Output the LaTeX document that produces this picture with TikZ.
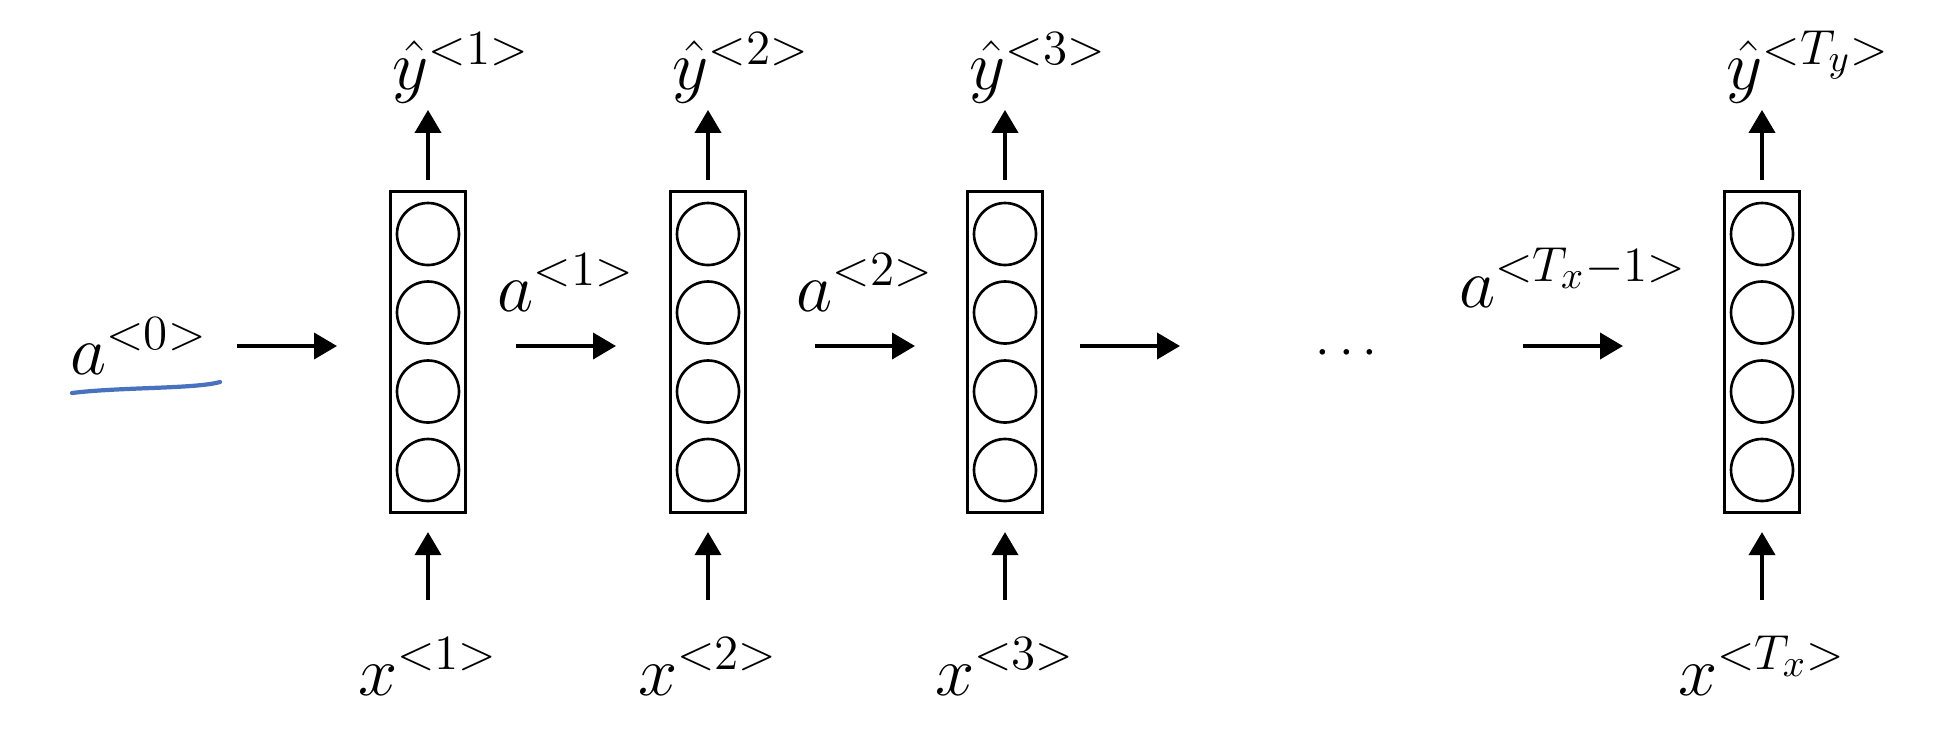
\RequirePackage{fix-cm}
\documentclass[tikz,border=0pt]{standalone}
\usepackage{amsmath, amssymb}
\usepackage{tikz}
\usetikzlibrary{positioning, arrows.meta}
\DeclareMathSizes{20}{20}{14}{11}
\definecolor{penblue}{RGB}{72,114,190}

\begin{document}
\begin{tikzpicture}[>={Triangle[length=0.23cm, width=0.26cm]}, font=\fontsize{20}{24}\selectfont,
    cell/.style={draw, line width=0.9pt, minimum width=0.75cm, minimum height=3.21cm, inner sep=0},
    unit/.style={circle, draw, line width=0.75pt, minimum size=0.62cm, inner sep=0},
    lab/.style={inner sep=0},
    flow/.style={->, line width=1.1pt}]
  \useasboundingbox (0,0) rectangle (19.6,7.32);

  % one block per time step
  \foreach \i/\xc/\tin/\tout in {1/4.28/1/1, 2/7.08/2/2, 3/10.05/3/3, 4/17.62/T_x/T_y} {
    \node[cell] (cell\i) at (\xc,3.80) {};
    \foreach \j/\dy in {1/1.18, 2/0.395, 3/-0.395, 4/-1.18}
      \node[unit] (u\i\j) at ([yshift=\dy cm]cell\i.center) {};
    \coordinate (out\i) at ([yshift=0.80cm]cell\i.north);
    \coordinate (in\i) at ([yshift=-0.86cm]cell\i.south);
    \node[lab, anchor=base west] (yh\i) at ([xshift=-0.36cm, yshift=1.0cm]cell\i.north) {$\hat{y}^{<\tout>}$};
    \node[lab, anchor=base] (x\i) at ([yshift=-1.81cm]cell\i.south) {$x^{<\tin>}$};
    \draw[flow, shorten <=0.1cm] (cell\i.north) -- (out\i);
    \draw[flow, shorten >=0.18cm] (in\i) -- (cell\i.south);
  }

  % activations passed along
  \coordinate (s1) at (2.37,3.86);  \coordinate (e1) at (3.37,3.86);
  \coordinate (s2) at (5.16,3.86);  \coordinate (e2) at (6.16,3.86);
  \coordinate (s3) at (8.15,3.86);  \coordinate (e3) at (9.15,3.86);
  \coordinate (s4) at (10.80,3.86); \coordinate (e4) at (11.80,3.86);
  \coordinate (s5) at (15.23,3.86); \coordinate (e5) at (16.23,3.86);

  \node[lab, left=0.29cm of s1] (a0) {$a^{<0>}$};
  \draw[flow] (s1) -- (e1);
  \draw[flow] (s2) -- node[lab, above=0.33cm] (a1) {$a^{<1>}$} (e2);
  \draw[flow] (s3) -- node[lab, above=0.33cm] (a2) {$a^{<2>}$} (e3);
  \draw[flow] (s4) -- (e4);
  \draw[flow] (s5) -- node[lab, above=0.37cm] (an) {$a^{<T_x-1>}$} (e5);
  \node[lab, anchor=base, font=\fontsize{15}{18}\selectfont] (dots) at (13.51,3.67) {$\cdots$};

  % pen mark under a<0>
  \draw[penblue, line width=1.2pt, line cap=round] (0.72,3.39) .. controls (1.2,3.45) and (1.95,3.43) .. (2.20,3.50);
\end{tikzpicture}
\end{document}
